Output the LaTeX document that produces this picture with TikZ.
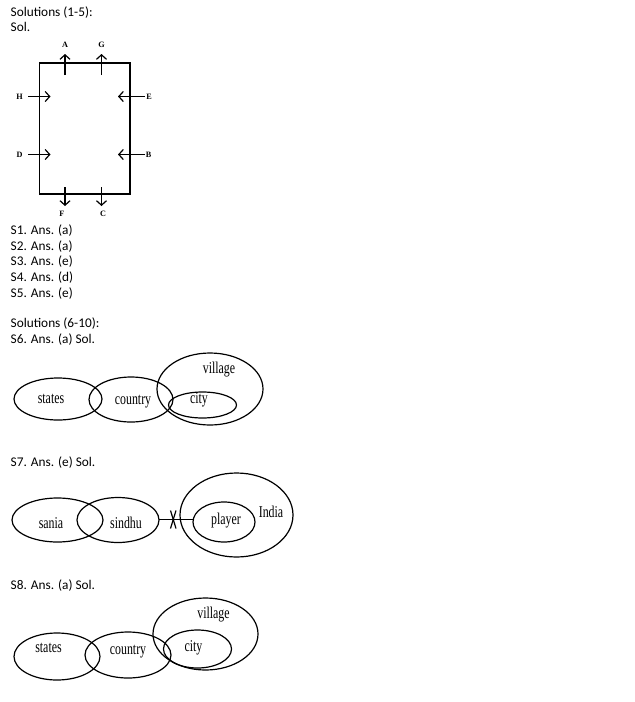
\documentclass[tikz,border=0pt]{standalone}
\usepackage{fontspec}
\setmainfont{Carlito}
\newfontfamily\lblfont{Liberation Serif}
\newfontfamily\vennfont[FakeStretch=0.72]{Liberation Serif}
\usetikzlibrary{arrows.meta}
\begin{document}
\begin{tikzpicture}[x=1pt,y=-1pt,
  txt/.style={anchor=base west,inner sep=0pt,font=\fontsize{13.3}{15}\selectfont},
  lbl/.style={inner sep=0pt,font=\lblfont\bfseries\fontsize{8.2}{9}\selectfont},
  vlbl/.style={inner sep=0pt,font=\vennfont\fontsize{16.5}{17}\selectfont},
  arr/.style={line width=1.2pt,-{Straight Barb[length=4.5pt,width=10pt,line width=1.2pt]}},
  venn/.style={line width=1.2pt},
]
\useasboundingbox (0,0) rectangle (635,702);
% texts
\node[txt] (t1) at (10.5,16.8) {Solutions (1-5):};
\node[txt] (t2) at (10.5,31.8) {Sol.};
\node[txt] (a1) at (10.5,234.5) {S1. Ans. (a)};
\node[txt] (a2) at (10.5,250) {S2. Ans. (a)};
\node[txt] (a3) at (10.5,265.5) {S3. Ans. (e)};
\node[txt] (a4) at (10.5,281.5) {S4. Ans. (d)};
\node[txt] (a5) at (10.5,297) {S5. Ans. (e)};
\node[txt] (t3) at (10.5,327.5) {Solutions (6-10):};
\node[txt] (a6) at (10.5,343) {S6. Ans. (a) Sol.};
\node[txt] (a7) at (10.5,466.5) {S7. Ans. (e) Sol.};
\node[txt] (a8) at (10.5,589) {S8. Ans. (a) Sol.};
% rectangle
\draw[line width=1.3pt] (39.5,63) rectangle (130,194);
\coordinate (As) at (65,75); \coordinate (Ae) at (65,54);
\coordinate (Gs) at (101.5,75); \coordinate (Ge) at (101.5,54);
\coordinate (Hs) at (28,96.5); \coordinate (He) at (50.5,96.5);
\coordinate (Es) at (145,96.5); \coordinate (Ee) at (118,96.5);
\coordinate (Ds) at (28,154.5); \coordinate (De) at (50.5,154.5);
\coordinate (Bs) at (145,154.5); \coordinate (Be) at (118,154.5);
\coordinate (Fs) at (65,187); \coordinate (Fe) at (65,206);
\coordinate (Cs) at (101.5,187); \coordinate (Ce) at (101.5,206);
\draw[arr] (As) -- (Ae);
\draw[arr] (Gs) -- (Ge);
\draw[arr] (Hs) -- (He);
\draw[arr] (Es) -- (Ee);
\draw[arr] (Ds) -- (De);
\draw[arr] (Bs) -- (Be);
\draw[arr] (Fs) -- (Fe);
\draw[arr] (Cs) -- (Ce);
\node[lbl] (A) at (65,45) {A};
\node[lbl] (G) at (101.5,45) {G};
\node[lbl] (H) at (19.5,97) {H};
\node[lbl] (E) at (149,97) {E};
\node[lbl] (D) at (19.5,155) {D};
\node[lbl] (B) at (148.5,155) {B};
\node[lbl] (F) at (62,213.5) {F};
\node[lbl] (C) at (103,213.5) {C};
% Venn 1
\draw[venn] (58,399) ellipse [x radius=44,y radius=21];
\draw[venn] (131,399.5) ellipse [x radius=42,y radius=22.5];
\draw[venn] (210,389) ellipse [x radius=53,y radius=36];
\draw[venn] (202.5,405) ellipse [x radius=34,y radius=13];
\node[vlbl] (s1) at (51,399) {states};
\node[vlbl] (c1) at (133,402) {country};
\node[vlbl] (y1) at (199,400) {city};
\node[vlbl] (v1) at (219,370) {village};
% Venn 2
\draw[venn] (57.5,520) ellipse [x radius=45.5,y radius=22];
\draw[venn] (118,520) ellipse [x radius=41,y radius=22.5];
\draw[venn] (236.5,515) ellipse [x radius=56.5,y radius=42];
\draw[venn] (224,522) ellipse [x radius=31,y radius=20];
\coordinate (l1) at (159,519.5);
\coordinate (l2) at (193,519.5);
\draw[venn] (l1) -- (l2);
\draw[venn] (170.5,510.5) -- (176,528.5);
\draw[venn] (176,510.5) -- (170.5,528.5);
\node[vlbl] (sa) at (51,523) {sania};
\node[vlbl] (sd) at (126,523) {sindhu};
\node[vlbl] (pl) at (226,520.5) {player};
\node[vlbl] (in) at (271,512) {India};
% Venn 3
\draw[venn] (57,656.5) ellipse [x radius=43,y radius=23.5];
\draw[venn] (128,655) ellipse [x radius=43,y radius=23];
\draw[venn] (205.5,634) ellipse [x radius=52.5,y radius=36];
\draw[venn] (197.5,649) ellipse [x radius=34,y radius=19];
\node[vlbl] (s3) at (48.5,647.5) {states};
\node[vlbl] (c3) at (128,651.5) {country};
\node[vlbl] (y3) at (193.5,648) {city};
\node[vlbl] (v3) at (213.5,615) {village};
\end{tikzpicture}
\end{document}
